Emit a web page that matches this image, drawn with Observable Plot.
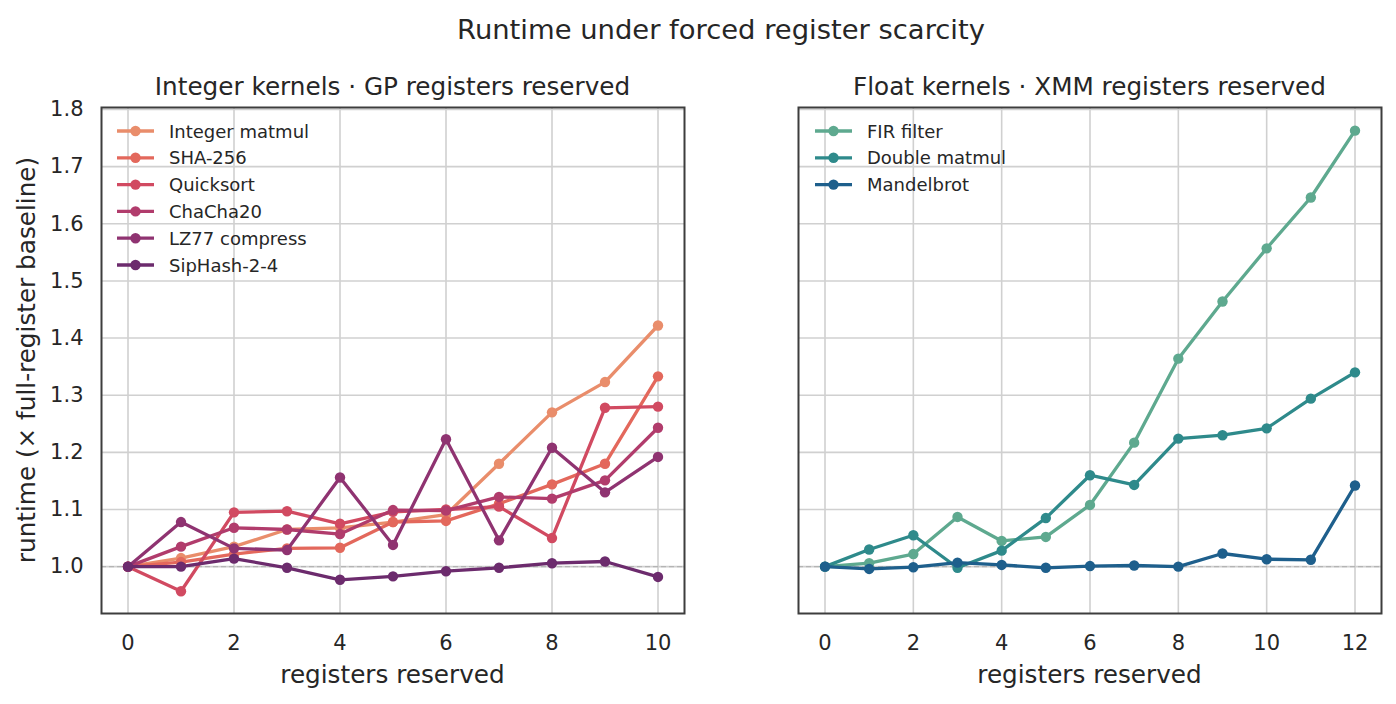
<!DOCTYPE html>
<html><head><meta charset="utf-8">
<script src="https://cdn.jsdelivr.net/npm/d3@7"></script>
<script src="https://cdn.jsdelivr.net/npm/@observablehq/plot@0.6"></script>
<style>
body{margin:0;background:#fff;}
#wrap{position:relative;width:1396px;height:704px;font-family:"DejaVu Sans",sans-serif;color:#262626;overflow:hidden;}
#wrap svg{position:absolute;top:0;}
</style></head><body><div id="wrap"></div>
<script>
// ---------- data ----------
const figTitle = "Runtime under forced register scarcity";
const panelTitles = ["Integer kernels · GP registers reserved", "Float kernels · XMM registers reserved"];
const xLabel = "registers reserved";
const yLabel = "runtime (× full-register baseline)";

const xInt = [0,1,2,3,4,5,6,7,8,9,10];
const intSeries = ["Integer matmul","SHA-256","Quicksort","ChaCha20","LZ77 compress","SipHash-2-4"];
const intMatmul = [1.000,1.015,1.035,1.065,1.068,1.078,1.091,1.180,1.270,1.323,1.422];
const sha256    = [1.000,1.008,1.022,1.032,1.033,1.078,1.080,1.110,1.144,1.180,1.333];
const quicksort = [1.000,0.957,1.095,1.097,1.075,1.096,1.100,1.105,1.050,1.278,1.280];
const chacha20  = [1.000,1.035,1.068,1.065,1.057,1.099,1.098,1.122,1.119,1.151,1.243];
const lz77      = [1.000,1.078,1.032,1.029,1.156,1.038,1.223,1.046,1.208,1.130,1.192];
const siphash   = [1.000,1.000,1.014,0.998,0.977,0.983,0.992,0.998,1.006,1.009,0.982];
const intValues = [intMatmul, sha256, quicksort, chacha20, lz77, siphash];
const intColors = ["#e98d6b","#e3685c","#d14a61","#b13c6c","#8f3371","#6c2b6d"];

const xFloat = [0,1,2,3,4,5,6,7,8,9,10,11,12];
const floatSeries = ["FIR filter","Double matmul","Mandelbrot"];
const firFilter   = [1.000,1.006,1.022,1.087,1.045,1.052,1.108,1.217,1.364,1.464,1.557,1.646,1.763];
const doubleMatmul= [1.000,1.030,1.055,0.998,1.028,1.085,1.160,1.143,1.224,1.230,1.242,1.294,1.340];
const mandelbrot  = [1.000,0.996,0.999,1.007,1.003,0.998,1.001,1.002,1.000,1.023,1.013,1.012,1.142];
const floatValues = [firFilter, doubleMatmul, mandelbrot];
const floatColors = ["#5ea98f","#2e8a8b","#1e5f8c"];

const yTicks = [1.0,1.1,1.2,1.3,1.4,1.5,1.6,1.7,1.8];
const xTicksInt = [0,2,4,6,8,10];
const xTicksFloat = [0,2,4,6,8,10,12];
const yDomain = [0.918, 1.8035];
const baseline = [1.0];

// ---------- build ----------
function tidy(series, xs, values){
  return series.flatMap((s,i)=>values[i].map((v,j)=>({series:s, x:xs[j], y:v})));
}

const wrap = document.getElementById("wrap");
const ink = "#262626";

function panel({rows, series, colors, xDomain, xTicks, width, mL, mR, showY}){
  const marks = [
    Plot.gridX(xTicks, {stroke:"#d0d0d0", strokeOpacity:1, strokeWidth:1.6}),
    Plot.gridY(yTicks, {stroke:"#d0d0d0", strokeOpacity:1, strokeWidth:1.6}),
    Plot.ruleY(baseline, {stroke:"#a8a8a8", strokeDasharray:"5,3", strokeWidth:1.4, strokeOpacity:0.7}),
  ];
  series.forEach(s=>{
    const d = rows.filter(r=>r.series===s);
    marks.push(Plot.line(d, {x:"x", y:"y", stroke:"series", strokeWidth:3.3}));
    marks.push(Plot.dot(d, {x:"x", y:"y", fill:"series", stroke:"none", r:5.2}));
  });
  marks.push(Plot.axisX(xTicks, {tickSize:0, tickPadding:22, label:null, fontSize:21, fill:ink}));
  if (showY) marks.push(Plot.axisY(yTicks, {tickSize:0, tickPadding:18, label:null, fontSize:21, fill:ink, tickFormat:d3.format(".1f")}));
  else marks.push(Plot.axisY(yTicks, {tickSize:0, label:null, tickFormat:()=>""}));
  marks.push(Plot.frame({stroke:"#3d3d3d", strokeWidth:2}));
  return Plot.plot({
    width, height:704, marginTop:107, marginBottom:91, marginLeft:mL, marginRight:mR,
    style:{fontFamily:"DejaVu Sans", fontSize:"21px", color:ink, background:"transparent", overflow:"visible"},
    x:{domain:xDomain},
    y:{domain:yDomain},
    color:{domain:series, range:colors},
    marks
  });
}

const left = panel({rows:tidy(intSeries,xInt,intValues), series:intSeries, colors:intColors,
  xDomain:[-0.5,10.5], xTicks:xTicksInt, width:700, mL:101, mR:16, showY:true});
left.style.left = "0px";
wrap.appendChild(left);

const right = panel({rows:tidy(floatSeries,xFloat,floatValues), series:floatSeries, colors:floatColors,
  xDomain:[-0.6,12.6], xTicks:xTicksFloat, width:696, mL:98, mR:15, showY:false});
right.style.left = "700px";
wrap.appendChild(right);

// ---------- overlay: titles, axis labels, legends ----------
const ns = "http://www.w3.org/2000/svg";
const ov = document.createElementNS(ns,"svg");
ov.setAttribute("width",1396); ov.setAttribute("height",704);
ov.style.left="0px"; ov.style.pointerEvents="none";
ov.setAttribute("font-family","DejaVu Sans");
wrap.appendChild(ov);
function txt(str, x, y, size, opts={}){
  const t = document.createElementNS(ns,"text");
  t.setAttribute("x",x); t.setAttribute("y",y);
  t.setAttribute("font-size",size); t.setAttribute("fill",ink);
  t.setAttribute("text-anchor", opts.anchor||"middle");
  if (opts.rotate) t.setAttribute("transform",`rotate(-90 ${x} ${y})`);
  if (opts.baseline) t.setAttribute("dominant-baseline",opts.baseline);
  t.textContent = str; ov.appendChild(t); return t;
}
txt(figTitle, 721, 39, 27.4);
const centers = [392.5, 1089.5];
panelTitles.forEach((s,i)=>txt(s, centers[i], 95, 24.7));
centers.forEach(c=>txt(xLabel, c, 683, 24.7));
txt(yLabel, 35, 360, 24.7, {rotate:true});

function legend(series, colors, x0){
  series.forEach((s,i)=>{
    const y = 131 + 26.8*i;
    const l = document.createElementNS(ns,"line");
    l.setAttribute("x1",x0); l.setAttribute("x2",x0+37); l.setAttribute("y1",y); l.setAttribute("y2",y);
    l.setAttribute("stroke",colors[i]); l.setAttribute("stroke-width",3.3);
    ov.appendChild(l);
    const c = document.createElementNS(ns,"circle");
    c.setAttribute("cx",x0+18.5); c.setAttribute("cy",y); c.setAttribute("r",5.2); c.setAttribute("fill",colors[i]);
    ov.appendChild(c);
    txt(s, x0+52, y, 18, {anchor:"start", baseline:"central"});
  });
}
legend(intSeries, intColors, 117);
legend(floatSeries, floatColors, 815);
</script></body></html>
